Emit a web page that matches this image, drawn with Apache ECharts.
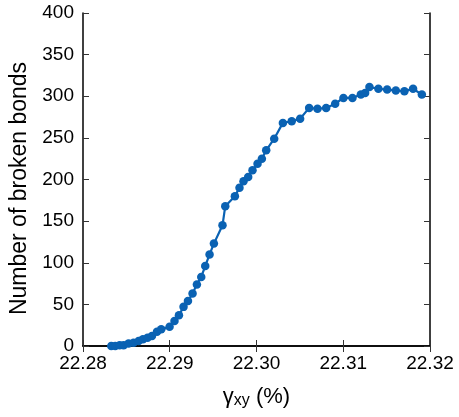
<!DOCTYPE html>
<html>
<head>
<meta charset="utf-8">
<script src="https://cdn.jsdelivr.net/npm/echarts@6/dist/echarts.min.js"></script>
<style>html,body{margin:0;padding:0;background:#fff}#c{width:459px;height:417px}</style>
</head>
<body>
<div id="c"></div>
<script>
var xValues = [22.28326, 22.28372, 22.28422, 22.28468, 22.28525, 22.28583, 22.28641, 22.28691, 22.28744, 22.28795,
  22.28853, 22.28902, 22.28998, 22.29055, 22.29106, 22.29159, 22.29210, 22.29263, 22.29313, 22.29363,
  22.29409, 22.29459, 22.29509, 22.29608, 22.29640, 22.29751, 22.29804, 22.29850, 22.29904, 22.29954,
  22.30012, 22.30062, 22.30112, 22.30204, 22.30304, 22.30406, 22.30503, 22.30607, 22.30703, 22.30803,
  22.30907, 22.31002, 22.31106, 22.31203, 22.31252, 22.31302, 22.31405, 22.31506, 22.31606, 22.31705,
  22.31805, 22.31906];
var yValues = [0, 0, 1, 1, 3, 4, 6, 8, 10, 12,
  17, 20, 23, 30, 37, 47, 54, 63, 74, 83,
  96, 110, 123, 145, 168, 180, 190, 198, 203, 211,
  219, 225, 235, 249, 268, 270, 273, 286, 285, 286,
  291, 298, 298, 302, 304, 311, 309, 308, 307, 306,
  309, 302];
var xTicks = [22.28, 22.29, 22.30, 22.31, 22.32];
var yTicks = [0, 50, 100, 150, 200, 250, 300, 350, 400];

var pts = xValues.map(function (x, i) { return [x, yValues[i]]; });
var font = 'Liberation Sans, Arial, sans-serif';
var chart = echarts.init(document.getElementById('c'), null, {renderer: 'canvas'});
var axisLineStyle = {color: '#000', width: 1.5};
var tickStyle = {show: true, inside: true, length: 6, lineStyle: {color: '#333', width: 1}};
chart.setOption({
  animation: false,
  backgroundColor: '#fff',
  grid: {left: 83, right: 29, top: 13, bottom: 71, containLabel: false},
  xAxis: [{
    type: 'value', min: xTicks[0], max: xTicks[xTicks.length - 1], interval: 0.01,
    position: 'bottom',
    axisLine: {show: true, lineStyle: axisLineStyle},
    axisTick: tickStyle,
    splitLine: {show: false},
    axisLabel: {margin: 8, color: '#000', fontSize: 19, fontFamily: font,
      formatter: function (v) { return v.toFixed(2); }},
    name: '{g|γ}{s|xy}{n| (%)}', nameLocation: 'middle', nameGap: 38,
    nameTextStyle: {fontFamily: font, color: '#000',
      rich: {g: {fontSize: 22, fontFamily: font, color: '#000'},
             s: {fontSize: 16, fontFamily: font, color: '#000', padding: [9, 0, 0, 0]},
             n: {fontSize: 22, fontFamily: font, color: '#000'}}}
  }, {
    type: 'value', min: xTicks[0], max: xTicks[xTicks.length - 1], interval: 0.01,
    position: 'top',
    axisLine: {show: true, lineStyle: axisLineStyle},
    axisTick: tickStyle,
    splitLine: {show: false}, axisLabel: {show: false}
  }],
  yAxis: [{
    type: 'value', min: yTicks[0], max: yTicks[yTicks.length - 1], interval: 50,
    position: 'left',
    axisLine: {show: true, lineStyle: axisLineStyle},
    axisTick: tickStyle,
    splitLine: {show: false},
    axisLabel: {margin: 9, color: '#000', fontSize: 19, fontFamily: font},
    name: 'Number of broken bonds', nameLocation: 'middle', nameGap: 49,
    nameTextStyle: {fontSize: 23, fontFamily: font, color: '#000', padding: [0, 18, 0, 0]}
  }, {
    type: 'value', min: yTicks[0], max: yTicks[yTicks.length - 1], interval: 50,
    position: 'right',
    axisLine: {show: true, lineStyle: axisLineStyle},
    axisTick: tickStyle,
    splitLine: {show: false}, axisLabel: {show: false}
  }],
  series: [{
    type: 'line', data: pts, xAxisIndex: 0, yAxisIndex: 0,
    symbol: 'circle', symbolSize: 8.5, showSymbol: true,
    lineStyle: {color: '#0a62b3', width: 2.2},
    itemStyle: {color: '#0a62b3'}
  }]
});
</script>
</body>
</html>
